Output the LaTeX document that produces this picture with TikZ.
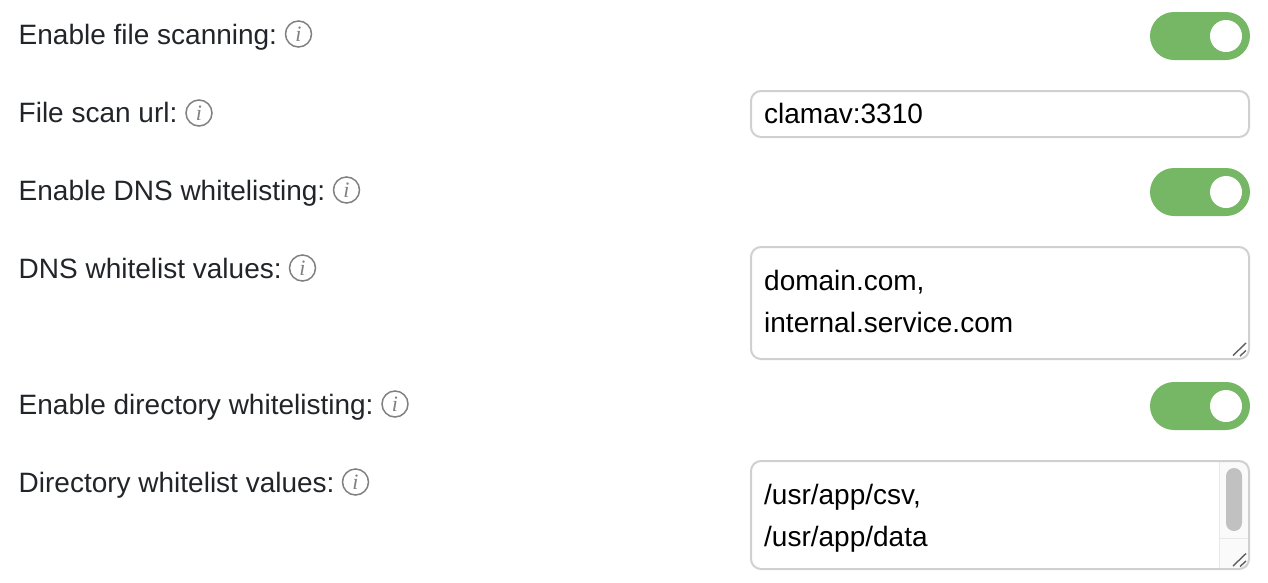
\documentclass[tikz,border=0pt]{standalone}
\usepackage{fontspec}
\setmainfont{Liberation Sans}
\newfontfamily\infofont{Liberation Serif}[Scale=1.0]
\definecolor{lbl}{HTML}{212529}
\definecolor{tgreen}{HTML}{75B765}
\definecolor{bord}{HTML}{D0D0D0}
\definecolor{sb}{HTML}{C1C1C1}
\definecolor{sbbg}{HTML}{FAFAFA}
\definecolor{sbl}{HTML}{E8E8E8}
\definecolor{ic}{HTML}{808080}
\definecolor{gr}{HTML}{606060}
\tikzset{
 x=1pt,y=-1pt,
 lab/.style={anchor=base west,inner sep=0pt,font=\fontsize{28}{32}\selectfont,text=lbl},
 val/.style={anchor=base west,inner sep=0pt,font=\fontsize{28}{32}\selectfont,text=black},
 infoc/.style={circle,draw=ic,line width=1.5pt,minimum size=26pt,inner sep=0pt,
   font=\infofont\itshape\fontsize{22}{22}\selectfont,text=ic},
 field/.style={draw=bord,line width=2pt,rounded corners=10pt,fill=white},
 togg/.style={fill=tgreen,rounded corners=24pt},
 knob/.style={fill=white,circle,minimum size=32pt,inner sep=0pt},
 grip/.style={draw=gr,line width=1.4pt},
}
\begin{document}
\begin{tikzpicture}
\useasboundingbox (0,0) rectangle (1268,582);
% labels
\node[lab] (l1) at (18.5,44) {Enable file scanning:};
\node[infoc] (i1) at (298.5,34) {i};
\node[lab] (l2) at (18.5,122) {File scan url:};
\node[infoc] (i2) at (199,113) {i};
\node[lab] (l3) at (18.5,200) {Enable DNS whitelisting:};
\node[infoc] (i3) at (346.5,190) {i};
\node[lab] (l4) at (18.5,278) {DNS whitelist values:};
\node[infoc] (i4) at (302.5,268) {i};
\node[lab] (l5) at (18.5,414) {Enable directory whitelisting:};
\node[infoc] (i5) at (395,404) {i};
\node[lab] (l6) at (18.5,492) {Directory whitelist values:};
\node[infoc] (i6) at (355.5,482) {i};
% toggles
\foreach \n/\y in {a/12,b/168,c/382}{
 \fill[togg] (1150,\y) rectangle ++(100,48);
 \node[knob] (k\n) at (1226,\y+24) {};
}
% fields
\draw[field] (751,91) rectangle (1249,137);
\node[val] (v1) at (764,123) {clamav:3310};
\draw[field] (751,247) rectangle (1249,359);
\node[val] (v2) at (764,290) {domain.com,};
\node[val] (v3) at (764,332) {internal.service.com};
\draw[grip] (1233,355.5) -- (1246,343) (1240,356) -- (1246,350.5);
% scrolling area
\fill[sbbg] (1219,462) rectangle (1248,568);
\draw[sbl,line width=1pt] (1219,462) -- (1219,568) (1219,538) -- (1248,538);
\draw[field,fill=none] (751,461) rectangle (1249,569);
\fill[sb,rounded corners=8pt] (1226,468) rectangle (1242,531);
\draw[grip] (1233,566) -- (1246,553.5) (1240,566.5) -- (1246,561);
\node[val] (v4) at (764,504) {/usr/app/csv,};
\node[val] (v5) at (764,546) {/usr/app/data};
\end{tikzpicture}
\end{document}
